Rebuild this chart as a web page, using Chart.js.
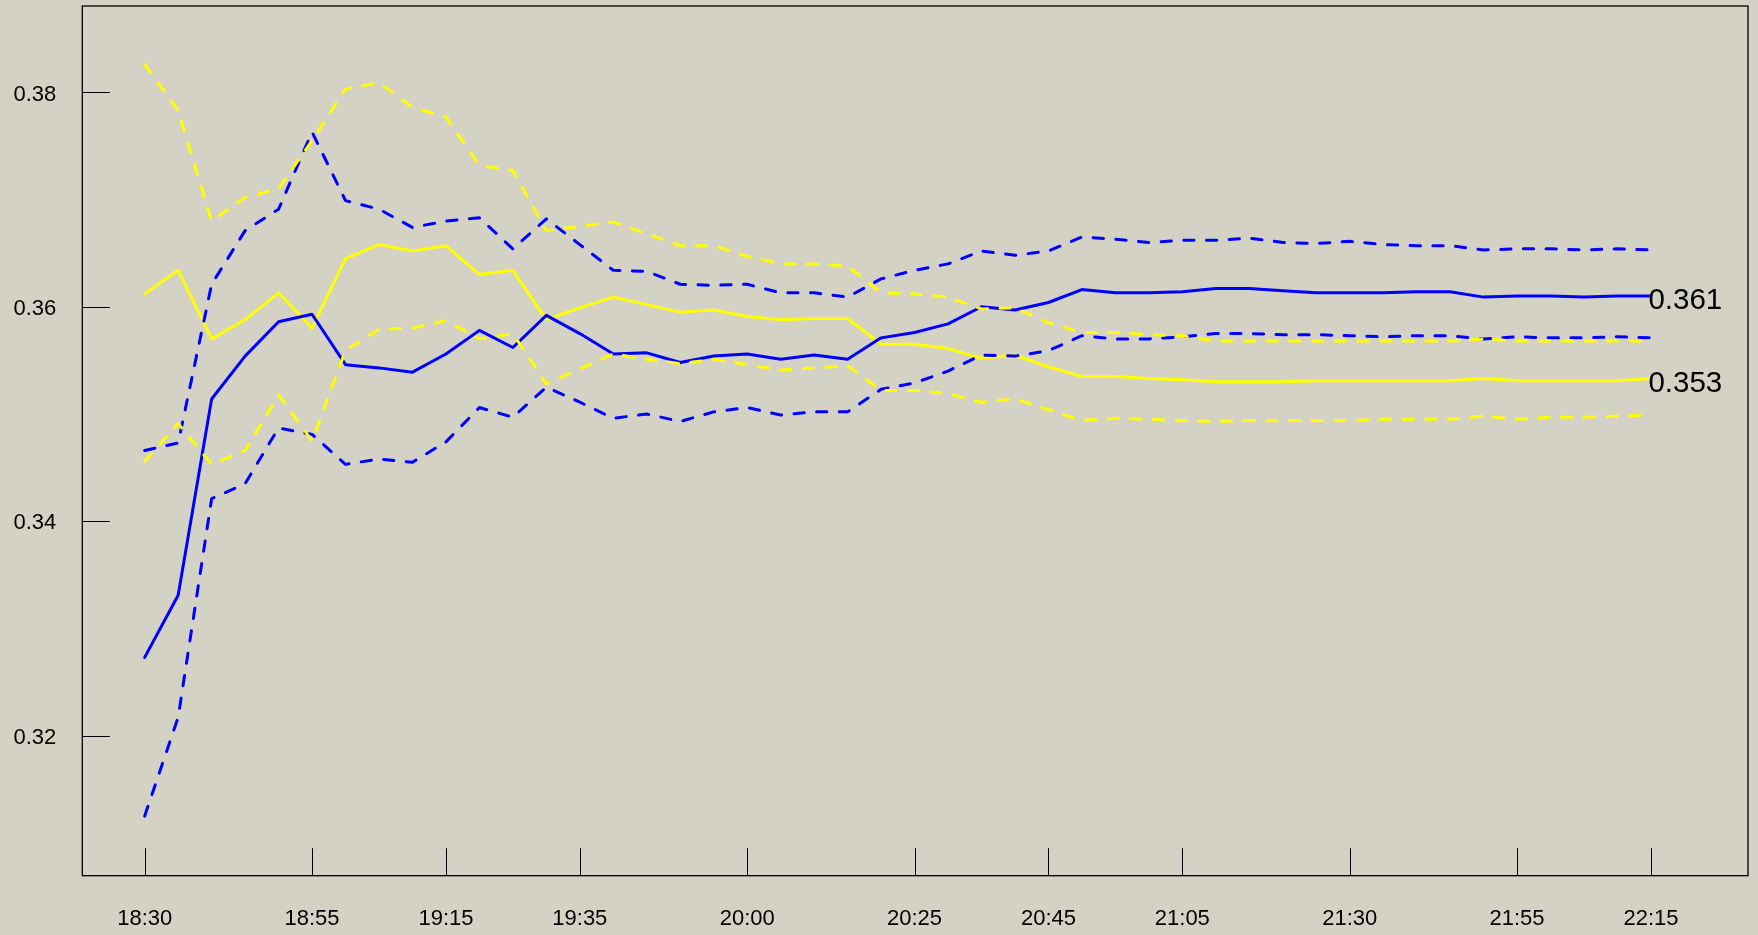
<!DOCTYPE html>
<html><head><meta charset="utf-8">
<script src="https://cdn.jsdelivr.net/npm/chart.js@4.4.1/dist/chart.umd.min.js"></script>
<style>
html,body{margin:0;padding:0;background:#D4D1C5;}
#wrap{width:1758px;height:935px;position:relative;}
</style></head><body>
<div id="wrap"><canvas id="c"></canvas></div>
<script>
const times = ['18:30','18:35','18:40','18:45','18:50','18:55','19:00','19:05','19:10','19:15',
  '19:20','19:25','19:30','19:35','19:40','19:45','19:50','19:55','20:00','20:05',
  '20:10','20:15','20:20','20:25','20:30','20:35','20:40','20:45','20:50','20:55',
  '21:00','21:05','21:10','21:15','21:20','21:25','21:30','21:35','21:40','21:45',
  '21:50','21:55','22:00','22:05','22:10','22:15'];
const xTickLabels = ['18:30','18:55','19:15','19:35','20:00','20:25','20:45','21:05','21:30','21:55','22:15'];
const yTicks = [0.32, 0.34, 0.36, 0.38];

const blueMid = [0.3273,0.3331,0.3514,0.3554,0.3586,0.3593,0.3546,0.3543,0.3539,0.3556,
  0.3578,0.3562,0.3592,0.3575,0.3556,0.3557,0.3548,0.3554,0.3556,0.3551,
  0.3555,0.3551,0.3571,0.3576,0.3584,0.3600,0.3597,0.3604,0.3616,0.3613,
  0.3613,0.3614,0.3617,0.3617,0.3615,0.3613,0.3613,0.3613,0.3614,0.3614,
  0.3609,0.3610,0.3610,0.3609,0.3610,0.3610];
const blueUpper = [0.3466,0.3473,0.3621,0.3671,0.3691,0.3763,0.3699,0.3691,0.3674,0.3680,
  0.3683,0.3654,0.3682,0.3658,0.3634,0.3633,0.3621,0.3620,0.3621,0.3613,
  0.3613,0.3609,0.3626,0.3634,0.3640,0.3652,0.3648,0.3652,0.3665,0.3663,
  0.3660,0.3662,0.3662,0.3664,0.3660,0.3659,0.3661,0.3658,0.3657,0.3657,
  0.3653,0.3654,0.3654,0.3653,0.3654,0.3653];
const blueLower = [0.3125,0.3217,0.3421,0.3435,0.3487,0.3481,0.3453,0.3458,0.3455,0.3474,
  0.3506,0.3497,0.3525,0.3511,0.3496,0.3500,0.3493,0.3502,0.3506,0.3499,
  0.3502,0.3502,0.3523,0.3529,0.3540,0.3555,0.3554,0.3559,0.3573,0.3570,
  0.3570,0.3572,0.3575,0.3575,0.3574,0.3574,0.3573,0.3572,0.3573,0.3573,
  0.3570,0.3572,0.3571,0.3571,0.3572,0.3571];
const yellowMid = [0.3612,0.3634,0.3570,0.3588,0.3613,0.3580,0.3645,0.3658,0.3652,0.3657,
  0.3630,0.3634,0.3588,0.3599,0.3609,0.3602,0.3595,0.3597,0.3591,0.3588,
  0.3589,0.3589,0.3565,0.3565,0.3561,0.3552,0.3555,0.3544,0.3535,0.3535,
  0.3533,0.3532,0.3530,0.3530,0.3530,0.3531,0.3531,0.3531,0.3531,0.3531,
  0.3533,0.3531,0.3531,0.3531,0.3531,0.3533];
const yellowUpper = [0.3826,0.3783,0.3680,0.3702,0.3710,0.3755,0.3803,0.3809,0.3786,0.3777,
  0.3732,0.3727,0.3671,0.3675,0.3679,0.3668,0.3657,0.3657,0.3647,0.3640,
  0.3640,0.3638,0.3613,0.3612,0.3609,0.3598,0.3599,0.3585,0.3576,0.3576,
  0.3574,0.3573,0.3568,0.3568,0.3568,0.3568,0.3568,0.3568,0.3568,0.3568,
  0.3570,0.3568,0.3568,0.3568,0.3568,0.3568];
const yellowLower = [0.3456,0.3491,0.3453,0.3466,0.3518,0.3475,0.3559,0.3579,0.3580,0.3587,
  0.3570,0.3575,0.3528,0.3542,0.3556,0.3551,0.3547,0.3551,0.3546,0.3541,
  0.3543,0.3545,0.3522,0.3522,0.3519,0.3511,0.3514,0.3504,0.3494,0.3496,
  0.3495,0.3494,0.3493,0.3494,0.3494,0.3494,0.3494,0.3495,0.3495,0.3495,
  0.3498,0.3495,0.3497,0.3497,0.3498,0.3499];
const endLabels = ['0.361', '0.353'];

const BLUE = '#0000FF', YELLOW = '#FFFF00';
const FONT = '"Liberation Sans", Arial, Helvetica, sans-serif';
const toPts = arr => arr.map((v, i) => ({x: i, y: v}));
const tickIdx = xTickLabels.map(t => times.indexOf(t));
const DASH = [10.3, 12.4];

function ds(label, arr, color, dashed, order) {
  return {
    label, data: toPts(arr), borderColor: color, backgroundColor: color,
    borderWidth: 3, borderDash: dashed ? DASH : [], borderCapStyle: 'round',
    borderJoinStyle: 'round', pointRadius: 0, tension: 0, fill: false, order
  };
}

const framePlugin = {
  id: 'frame',
  afterDatasetsDraw(chart) {
    const {ctx, chartArea: a, scales} = chart;
    ctx.save();
    ctx.strokeStyle = '#000';
    ctx.lineWidth = 1.3;
    ctx.strokeRect(a.left, a.top, a.right - a.left, a.bottom - a.top);
    ctx.lineWidth = 1;
    const TL = 27.5;
    ctx.beginPath();
    scales.x.ticks.forEach(t => {
      const px = Math.round(scales.x.getPixelForValue(t.value)) + 0.5;
      ctx.moveTo(px, a.bottom); ctx.lineTo(px, a.bottom - TL);
    });
    scales.y.ticks.forEach(t => {
      const py = Math.round(scales.y.getPixelForValue(t.value)) + 0.5;
      ctx.moveTo(a.left, py); ctx.lineTo(a.left + TL, py);
    });
    ctx.stroke();
    // end labels
    ctx.fillStyle = '#000';
    ctx.font = '29.5px ' + FONT;
    ctx.textAlign = 'left';
    ctx.textBaseline = 'alphabetic';
    ['blueMid', 'yellowMid'].forEach((name, k) => {
      const idx = chart.data.datasets.findIndex(d => d.label === name);
      const pts = chart.getDatasetMeta(idx).data;
      const p = pts[pts.length - 1];
      ctx.fillText(endLabels[k], p.x - 2.5, p.y + 13.4);
    });
    ctx.restore();
  }
};

new Chart(document.getElementById('c'), {
  type: 'line',
  data: {
    datasets: [
      ds('yellowLower', yellowLower, YELLOW, true, 1),
      ds('yellowUpper', yellowUpper, YELLOW, true, 2),
      ds('blueLower', blueLower, BLUE, true, 3),
      ds('blueUpper', blueUpper, BLUE, true, 4),
      ds('blueMid', blueMid, BLUE, false, 5),
      ds('yellowMid', yellowMid, YELLOW, false, 6)
    ]
  },
  options: {
    responsive: true, maintainAspectRatio: false, animation: false,
    layout: {padding: {top: 6, right: 10, left: 0, bottom: 0}},
    plugins: {legend: {display: false}, tooltip: {enabled: false}},
    scales: {
      x: {
        type: 'linear', min: -1.864, max: 47.9,
        grid: {display: false, drawTicks: false}, border: {display: false},
        afterBuildTicks: s => { s.ticks = tickIdx.map(v => ({value: v})); },
        afterFit: s => { s.height = 59.3; s.paddingLeft = 0; s.paddingRight = 0; },
        ticks: {
          autoSkip: false, maxRotation: 0, minRotation: 0, padding: 30, color: '#000',
          font: {family: FONT, size: 22},
          callback: v => times[v]
        }
      },
      y: {
        type: 'linear', min: 0.30694, max: 0.38805,
        grid: {display: false, drawTicks: false}, border: {display: false},
        afterBuildTicks: s => { s.ticks = yTicks.map(v => ({value: v})); },
        afterFit: s => { s.width = 82.3; s.paddingTop = 0; s.paddingBottom = 0; },
        ticks: {
          padding: 26, labelOffset: 2.2, color: '#000', font: {family: FONT, size: 22},
          callback: v => v.toFixed(2)
        }
      }
    }
  },
  plugins: [framePlugin]
});
</script>
</body></html>
